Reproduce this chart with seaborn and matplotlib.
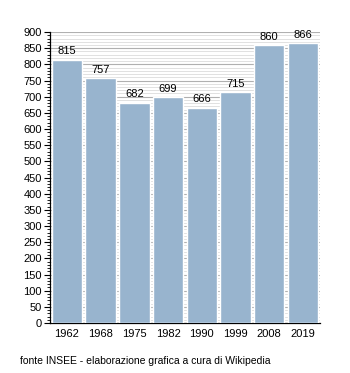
import matplotlib
matplotlib.use("Agg")
import matplotlib.pyplot as plt
import seaborn as sns
import pandas as pd
from matplotlib.ticker import MultipleLocator

years = ["1962", "1968", "1975", "1982", "1990", "1999", "2008", "2019"]
population = [815, 757, 682, 699, 666, 715, 860, 866]

df = pd.DataFrame({"anno": years, "abitanti": population})

sns.set_style("white")
plt.rcParams["font.family"] = ["Liberation Sans", "DejaVu Sans"]
plt.rcParams["text.color"] = "black"
plt.rcParams["xtick.color"] = "black"
plt.rcParams["ytick.color"] = "black"

fig = plt.figure(figsize=(3.5, 3.73), dpi=100)
ax = fig.add_axes([0.143, 0.134, 0.771, 0.78])

sns.barplot(data=df, x="anno", y="abitanti", color="#98b4ce", saturation=1,
            width=0.9, ax=ax, zorder=3)

ax.set_ylim(0, 900)
ax.set_xlim(-0.5, len(years) - 0.5)
ax.yaxis.set_major_locator(MultipleLocator(50))
ax.yaxis.set_minor_locator(MultipleLocator(10))
ax.grid(axis="y", which="major", color="#b0b0b0", linewidth=0.8, zorder=0)
ax.grid(axis="y", which="minor", color="#dcdcdc", linewidth=0.6, zorder=0)
ax.set_axisbelow(True)

for side in ("top", "right"):
    ax.spines[side].set_visible(False)
ax.spines["left"].set_color("black")
ax.spines["bottom"].set_color("black")
ax.spines["left"].set_linewidth(0.9)
ax.spines["bottom"].set_linewidth(0.9)

ax.tick_params(axis="y", which="major", direction="out", length=4, width=0.8,
               labelsize=8, left=True, pad=2, colors="black")
ax.tick_params(axis="y", which="minor", direction="out", length=2, width=0.6,
               left=True, colors="black")
ax.tick_params(axis="x", length=0, labelsize=8, pad=4, colors="black")
ax.set_xlabel("")
ax.set_ylabel("")

for i, v in enumerate(population):
    ax.text(i, v + 10, str(v), ha="center", va="bottom", fontsize=8, color="black")

fig.text(0.057, 0.02, "fonte INSEE - elaborazione grafica a cura di Wikipedia",
         fontsize=7.5, ha="left", va="bottom", color="black")

fig.savefig("out.png", dpi=100)
